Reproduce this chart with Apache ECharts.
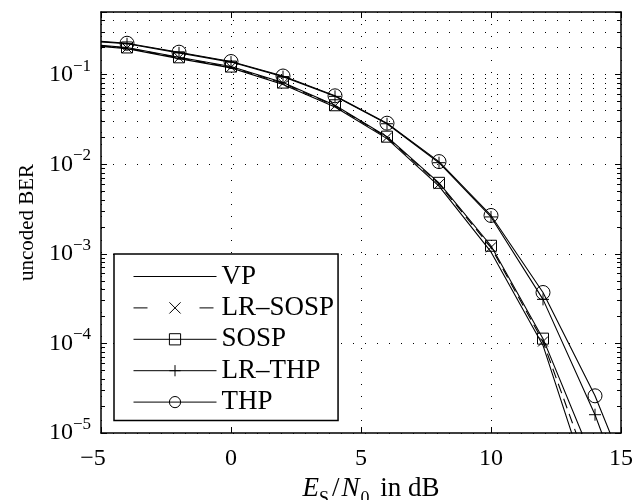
<!DOCTYPE html>
<html>
<head>
<meta charset="utf-8">
<script src="https://cdn.jsdelivr.net/npm/echarts@6/dist/echarts.min.js"></script>
<style>html,body{margin:0;padding:0;background:#fff}#c{width:636px;height:500px}</style>
</head>
<body>
<div id="c"></div>
<script>
// ---- data ----
const snr = [-5, -4, -2, 0, 2, 4, 6, 8, 10, 12, 14, 16];
const markerSnr = [-4, -2, 0, 2, 4, 6, 8, 10, 12, 14];
const berVP     = [0.206, 0.195, 0.151, 0.119, 0.0775, 0.0435, 0.0193, 0.0057, 0.00105, 9.5e-5, 1.6e-6, 2e-8];
const berLRSOSP = [0.209, 0.198, 0.154, 0.121, 0.0800, 0.0448, 0.0199, 0.0060, 0.00118, 1.05e-4, 2.6e-6, 5e-8];
const berSOSP   = [0.212, 0.201, 0.156, 0.123, 0.0815, 0.0455, 0.0203, 0.0062, 0.00123, 1.13e-4, 4.4e-6, 1e-7];
const berLRTHP  = [0.232, 0.221, 0.175, 0.138, 0.0950, 0.0572, 0.0283, 0.0104, 0.00258, 3.1e-4, 1.6e-5, 4.4e-7];
const berTHP    = [0.235, 0.224, 0.178, 0.140, 0.0965, 0.0580, 0.0287, 0.0107, 0.00268, 3.7e-4, 2.6e-5, 9.6e-7];
const seriesNames = ['VP', 'LR\u2013SOSP', 'SOSP', 'LR\u2013THP', 'THP'];
const xTicks = [-5, 0, 5, 10, 15];
const yDecades = [-5, -4, -3, -2, -1];
const yMin = 1e-5, yMax = 0.5;

const FONT = 'Liberation Serif';
const dotted = [1, 11];

function mk(name, vals, symbol, size, dashed) {
  return {
    type: 'line', name: name,
    xAxisIndex: 0, yAxisIndex: 0,
    data: snr.map((x, i) => ({ value: [x, vals[i]], symbolSize: markerSnr.indexOf(x) >= 0 ? size : 0 })),
    symbol: symbol, showSymbol: true, showAllSymbol: true,
    lineStyle: { color: '#000', width: 1.1, type: dashed ? [10, 6] : 'solid' },
    itemStyle: { color: 'transparent', borderColor: symbol === 'none' ? 'transparent' : '#000', borderWidth: 1 },
    emphasis: { disabled: true },
    clip: true, animation: false, silent: true
  };
}

const minorVals = [];
yDecades.forEach(k => { for (let m = 2; m <= 9; m++) { const v = m * Math.pow(10, k); if (v < yMax) minorVals.push(v); } });
const tickLen = 4 / 26; // ~4px in dB units

const sVP = mk(seriesNames[0], berVP, 'none', 0, false);
sVP.markLine = {
  silent: true, symbol: ['none', 'none'], label: { show: false }, animation: false,
  lineStyle: { color: '#000', width: 1, type: dotted },
  data: minorVals.map(v => ({ yAxis: v }))
};
const sLRSOSP = mk(seriesNames[1], berLRSOSP, 'path://M0,0L10,10M10,0L0,10', 10, true);
const sSOSP = mk(seriesNames[2], berSOSP, 'rect', 11, false);
sSOSP.markLine = {
  silent: true, symbol: ['none', 'none'], label: { show: false }, animation: false,
  lineStyle: { color: '#000', width: 1, type: 'solid' },
  data: minorVals.map(v => [{ coord: [xTicks[0], v] }, { coord: [xTicks[0] + tickLen, v] }])
    .concat(minorVals.map(v => [{ coord: [xTicks[xTicks.length - 1], v] }, { coord: [xTicks[xTicks.length - 1] - tickLen, v] }]))
};
const sLRTHP = mk(seriesNames[3], berLRTHP, 'path://M5,0L5,10M0,5L10,5', 12, false);
const sTHP = mk(seriesNames[4], berTHP, 'circle', 14, false);

const option = {
  animation: false,
  backgroundColor: '#fff',
  grid: { left: 101, right: 15, top: 12, bottom: 67, containLabel: false, outerBoundsMode: 'none' },
  legend: {
    orient: 'vertical', left: 114, top: 254,
    padding: [9, 4, 5, 19],
    itemWidth: 83, itemHeight: 14, itemGap: 4.4,
    backgroundColor: '#fff', borderColor: '#000', borderWidth: 1.5,
    textStyle: { fontFamily: FONT, fontSize: 27, color: '#000', lineHeight: 27 },
    itemStyle: { color: 'transparent', borderColor: '#000', borderWidth: 1 },
    lineStyle: { color: '#000', width: 1 },
    selectedMode: false,
    data: [
      { name: seriesNames[0], itemStyle: { borderColor: 'transparent', color: 'transparent' } },
      { name: seriesNames[1], lineStyle: { type: [14, 52] } },
      { name: seriesNames[2] },
      { name: seriesNames[3] },
      { name: seriesNames[4] }
    ]
  },
  xAxis: [{
    type: 'value', min: xTicks[0], max: xTicks[xTicks.length - 1], interval: 5, position: 'bottom',
    axisLine: { show: true, onZero: false, lineStyle: { color: '#000', width: 1.5 } },
    axisTick: { show: true, inside: true, length: 6, lineStyle: { color: '#000', width: 1 } },
    splitLine: { show: true, lineStyle: { color: '#000', width: 1, type: dotted } },
    axisLabel: {
      margin: 14, fontFamily: FONT, fontSize: 24, color: '#000',
      formatter: v => v < 0 ? '{n|\u2212' + Math.abs(v) + '}' : '{p|' + v + '}',
      rich: { n: { fontFamily: FONT, fontSize: 24, color: '#000', padding: [0, 16, 0, 0] }, p: { fontFamily: FONT, fontSize: 24, color: '#000' } }
    },
    name: '{i0|E}{s1|S}{n1|/}{i|N}{s2|0}{n| in dB}',
    nameLocation: 'middle', nameGap: 40,
    nameTextStyle: {
      rich: {
        i0: { fontFamily: FONT, fontSize: 27, fontStyle: 'italic', color: '#000', lineHeight: 27, verticalAlign: 'top', padding: [0, 0, 0, 20] },
        i: { fontFamily: FONT, fontSize: 27, fontStyle: 'italic', color: '#000', lineHeight: 27, verticalAlign: 'top', padding: [0, 1, 0, 0] },
        n1: { fontFamily: FONT, fontSize: 27, color: '#000', lineHeight: 27, verticalAlign: 'top', padding: [0, 2, 0, 0] },
        n: { fontFamily: FONT, fontSize: 27, color: '#000', lineHeight: 27, verticalAlign: 'top' },
        s1: { fontFamily: FONT, fontSize: 18, color: '#000', lineHeight: 18, verticalAlign: 'top', padding: [14, 3, 0, 0] },
        s2: { fontFamily: FONT, fontSize: 18, color: '#000', lineHeight: 18, verticalAlign: 'top', padding: [14, 4, 0, 0] }
      }
    }
  }, {
    type: 'value', min: xTicks[0], max: xTicks[xTicks.length - 1], interval: 5, position: 'top',
    axisLine: { show: true, onZero: false, lineStyle: { color: '#000', width: 1.5 } },
    axisTick: { show: true, inside: true, length: 6, lineStyle: { color: '#000', width: 1 } },
    splitLine: { show: false }, axisLabel: { show: false }
  }],
  yAxis: [{
    type: 'log', logBase: 10, min: yMin, max: yMax, position: 'left',
    axisLine: { show: true, onZero: false, lineStyle: { color: '#000', width: 1.5 } },
    axisTick: { show: true, inside: true, length: 6, lineStyle: { color: '#000', width: 1 } },
    splitLine: { show: true, lineStyle: { color: '#000', width: 1, type: dotted } },
    axisLabel: {
      margin: 10,
      formatter: v => {
        const e = Math.log10(v);
        if (Math.abs(e - Math.round(e)) > 1e-6) return '';
        const k = Math.round(e);
        if (yDecades.indexOf(k) < 0) return '';
        return '{b|10}{e|\u2212' + Math.abs(k) + '}';
      },
      rich: {
        b: { fontFamily: FONT, fontSize: 24, color: '#000', lineHeight: 34, verticalAlign: 'middle' },
        e: { fontFamily: FONT, fontSize: 17, color: '#000', lineHeight: 17, verticalAlign: 'top' }
      }
    },
    name: 'uncoded BER', nameLocation: 'middle', nameGap: 63,
    nameTextStyle: { fontFamily: FONT, fontSize: 21, color: '#000' }
  }, {
    type: 'log', logBase: 10, min: yMin, max: yMax, position: 'right',
    axisLine: { show: true, onZero: false, lineStyle: { color: '#000', width: 1.5 } },
    axisTick: { show: true, inside: true, length: 6, lineStyle: { color: '#000', width: 1 } },
    splitLine: { show: false }, axisLabel: { show: false }
  }],
  series: [sVP, sLRSOSP, sSOSP, sLRTHP, sTHP]
};

const chart = echarts.init(document.getElementById('c'), null, { renderer: 'canvas' });
chart.setOption(option);
</script>
</body>
</html>
